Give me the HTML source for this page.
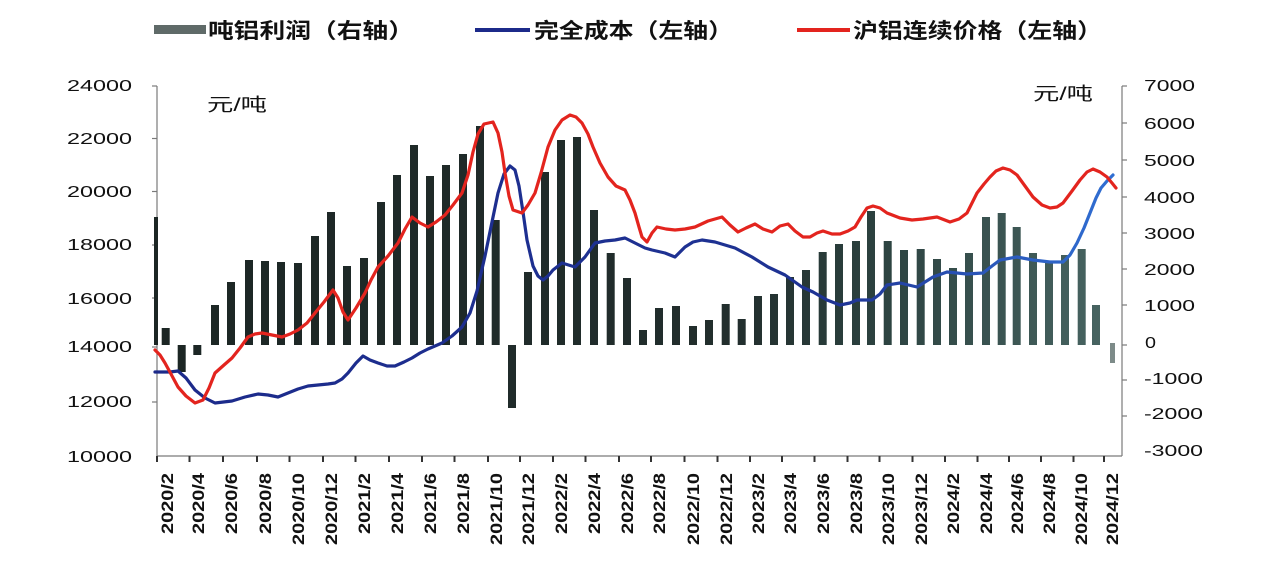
<!DOCTYPE html>
<html><head><meta charset="utf-8"><style>
html,body{margin:0;padding:0;background:#fff;}
svg{display:block;}
</style></head><body>
<svg width="1273" height="572" viewBox="0 0 1273 572" xmlns="http://www.w3.org/2000/svg">
<defs>
<linearGradient id="barg" gradientUnits="userSpaceOnUse" x1="157" y1="0" x2="1122" y2="0">
<stop offset="0" stop-color="#1c2624"/>
<stop offset="0.6" stop-color="#222e2d"/>
<stop offset="0.75" stop-color="#2c4240"/>
<stop offset="1" stop-color="#4a6764"/>
</linearGradient>
<linearGradient id="blueg" gradientUnits="userSpaceOnUse" x1="157" y1="0" x2="1122" y2="0">
<stop offset="0" stop-color="#1c2a8a"/>
<stop offset="0.7" stop-color="#1e3394"/>
<stop offset="0.85" stop-color="#2a55b8"/>
<stop offset="1" stop-color="#3070d4"/>
</linearGradient>
</defs>
<rect width="1273" height="572" fill="#fff"/>

<!-- Legend -->
<rect x="154" y="25" width="52" height="9" fill="#5f6a68"/>
<text x="208" y="38" font-family="Liberation Sans, Noto Sans CJK SC, sans-serif" font-weight="bold" font-size="21" fill="#111" textLength="206" lengthAdjust="spacingAndGlyphs">吨铝利润（右轴）</text>
<line x1="475" y1="30" x2="530" y2="30" stroke="#1c2a8a" stroke-width="4"/>
<text x="534" y="38" font-family="Liberation Sans, Noto Sans CJK SC, sans-serif" font-weight="bold" font-size="21" fill="#111" textLength="199" lengthAdjust="spacingAndGlyphs">完全成本（左轴）</text>
<line x1="797" y1="30" x2="850" y2="30" stroke="#e3241e" stroke-width="4"/>
<text x="853" y="38" font-family="Liberation Sans, Noto Sans CJK SC, sans-serif" font-weight="bold" font-size="21" fill="#111" textLength="249" lengthAdjust="spacingAndGlyphs">沪铝连续价格（左轴）</text>

<!-- Unit labels -->
<text x="207" y="111" font-family="Liberation Sans, Noto Sans CJK SC, sans-serif" font-size="18" fill="#111" textLength="60" lengthAdjust="spacingAndGlyphs">元/吨</text>
<text x="1033" y="100" font-family="Liberation Sans, Noto Sans CJK SC, sans-serif" font-size="18" fill="#111" textLength="60" lengthAdjust="spacingAndGlyphs">元/吨</text>

<!-- Left axis labels -->
<g font-family="Liberation Sans, sans-serif" font-size="16" fill="#111" text-anchor="end">
<text x="132" y="91" textLength="65" lengthAdjust="spacingAndGlyphs">24000</text>
<text x="132" y="144" textLength="65" lengthAdjust="spacingAndGlyphs">22000</text>
<text x="132" y="197" textLength="65" lengthAdjust="spacingAndGlyphs">20000</text>
<text x="132" y="250" textLength="65" lengthAdjust="spacingAndGlyphs">18000</text>
<text x="132" y="304" textLength="65" lengthAdjust="spacingAndGlyphs">16000</text>
<text x="132" y="352" textLength="65" lengthAdjust="spacingAndGlyphs">14000</text>
<text x="132" y="407" textLength="65" lengthAdjust="spacingAndGlyphs">12000</text>
<text x="132" y="462" textLength="65" lengthAdjust="spacingAndGlyphs">10000</text>
</g>
<!-- Right axis labels -->
<g font-family="Liberation Sans, sans-serif" font-size="16" fill="#111">
<text x="1144" y="91" textLength="51" lengthAdjust="spacingAndGlyphs">7000</text>
<text x="1144" y="129" textLength="51" lengthAdjust="spacingAndGlyphs">6000</text>
<text x="1144" y="166" textLength="51" lengthAdjust="spacingAndGlyphs">5000</text>
<text x="1144" y="203" textLength="51" lengthAdjust="spacingAndGlyphs">4000</text>
<text x="1144" y="239" textLength="51" lengthAdjust="spacingAndGlyphs">3000</text>
<text x="1144" y="275" textLength="51" lengthAdjust="spacingAndGlyphs">2000</text>
<text x="1144" y="311" textLength="51" lengthAdjust="spacingAndGlyphs">1000</text>
<text x="1145" y="348" textLength="11" lengthAdjust="spacingAndGlyphs">0</text>
<text x="1144" y="384" textLength="59" lengthAdjust="spacingAndGlyphs">-1000</text>
<text x="1144" y="419" textLength="59" lengthAdjust="spacingAndGlyphs">-2000</text>
<text x="1144" y="456" textLength="59" lengthAdjust="spacingAndGlyphs">-3000</text>
</g>

<!-- Axes -->
<g stroke="#7a7a7a" stroke-width="1.2" fill="none">
<line x1="157" y1="86" x2="157" y2="457"/>
<line x1="1122" y1="86" x2="1122" y2="456"/>
<line x1="157" y1="456" x2="1122" y2="456"/>
<line x1="152" y1="86" x2="157" y2="86"/>
<line x1="152" y1="138.5" x2="157" y2="138.5"/>
<line x1="152" y1="191.5" x2="157" y2="191.5"/>
<line x1="152" y1="245" x2="157" y2="245"/>
<line x1="152" y1="298" x2="157" y2="298"/>
<line x1="152" y1="347" x2="157" y2="347"/>
<line x1="152" y1="402" x2="157" y2="402"/>
<line x1="1122" y1="86" x2="1127" y2="86"/>
<line x1="1122" y1="123" x2="1127" y2="123"/>
<line x1="1122" y1="160" x2="1127" y2="160"/>
<line x1="1122" y1="197" x2="1127" y2="197"/>
<line x1="1122" y1="233" x2="1127" y2="233"/>
<line x1="1122" y1="269" x2="1127" y2="269"/>
<line x1="1122" y1="305" x2="1127" y2="305"/>
<line x1="1122" y1="345" x2="1127" y2="345"/>
<line x1="1122" y1="380" x2="1127" y2="380"/>
<line x1="1122" y1="416" x2="1127" y2="416"/>
</g>
<g stroke="#333" stroke-width="2">
<line x1="157" y1="456" x2="157" y2="462"/>
<line x1="189.5" y1="456" x2="189.5" y2="462"/>
<line x1="223" y1="456" x2="223" y2="462"/>
<line x1="257" y1="456" x2="257" y2="462"/>
<line x1="289.5" y1="456" x2="289.5" y2="462"/>
<line x1="323" y1="456" x2="323" y2="462"/>
<line x1="355.5" y1="456" x2="355.5" y2="462"/>
<line x1="389" y1="456" x2="389" y2="462"/>
<line x1="422" y1="456" x2="422" y2="462"/>
<line x1="454.5" y1="456" x2="454.5" y2="462"/>
<line x1="488" y1="456" x2="488" y2="462"/>
<line x1="520" y1="456" x2="520" y2="462"/>
<line x1="553" y1="456" x2="553" y2="462"/>
<line x1="585.5" y1="456" x2="585.5" y2="462"/>
<line x1="619" y1="456" x2="619" y2="462"/>
<line x1="651" y1="456" x2="651" y2="462"/>
<line x1="684.5" y1="456" x2="684.5" y2="462"/>
<line x1="717.5" y1="456" x2="717.5" y2="462"/>
<line x1="750" y1="456" x2="750" y2="462"/>
<line x1="782" y1="456" x2="782" y2="462"/>
<line x1="814.5" y1="456" x2="814.5" y2="462"/>
<line x1="847.5" y1="456" x2="847.5" y2="462"/>
<line x1="879.5" y1="456" x2="879.5" y2="462"/>
<line x1="912.5" y1="456" x2="912.5" y2="462"/>
<line x1="945" y1="456" x2="945" y2="462"/>
<line x1="977.5" y1="456" x2="977.5" y2="462"/>
<line x1="1009" y1="456" x2="1009" y2="462"/>
<line x1="1041" y1="456" x2="1041" y2="462"/>
<line x1="1073.5" y1="456" x2="1073.5" y2="462"/>
<line x1="1104" y1="456" x2="1104" y2="462"/>
</g>

<!-- Bars -->
<g fill="url(#barg)">
<rect x="154" y="217" width="4" height="128"/>
<rect x="161.7" y="328" width="8" height="17"/>
<rect x="177.7" y="345" width="8" height="27"/>
<rect x="193.3" y="345" width="8" height="10"/>
<rect x="211" y="305" width="8" height="40"/>
<rect x="227" y="282" width="8" height="63"/>
<rect x="245" y="260" width="8" height="85"/>
<rect x="261" y="261" width="8" height="84"/>
<rect x="277" y="262" width="8" height="83"/>
<rect x="294" y="263" width="8" height="82"/>
<rect x="311" y="236" width="8" height="109"/>
<rect x="327" y="212" width="8" height="133"/>
<rect x="343" y="266" width="8" height="79"/>
<rect x="360" y="258" width="8" height="87"/>
<rect x="377" y="202" width="8" height="143"/>
<rect x="393" y="175" width="8" height="170"/>
<rect x="410" y="145" width="8" height="200"/>
<rect x="426" y="176" width="8" height="169"/>
<rect x="442" y="165" width="8" height="180"/>
<rect x="459" y="154" width="8" height="191"/>
<rect x="476" y="126" width="8" height="219"/>
<rect x="491.7" y="220" width="8" height="125"/>
<rect x="508" y="345" width="8" height="63"/>
<rect x="524" y="272" width="8" height="73"/>
<rect x="541" y="172" width="8" height="173"/>
<rect x="557" y="140" width="8" height="205"/>
<rect x="573" y="137" width="8" height="208"/>
<rect x="590" y="210" width="8" height="135"/>
<rect x="606.7" y="253" width="8" height="92"/>
<rect x="623" y="278" width="8" height="67"/>
<rect x="639" y="330" width="8" height="15"/>
<rect x="655" y="308" width="8" height="37"/>
<rect x="672" y="306" width="8" height="39"/>
<rect x="689" y="326" width="8" height="19"/>
<rect x="705" y="320" width="8" height="25"/>
<rect x="721.7" y="304" width="8" height="41"/>
<rect x="737.7" y="319" width="8" height="26"/>
<rect x="754" y="296" width="8" height="49"/>
<rect x="770" y="294" width="8" height="51"/>
<rect x="786" y="277" width="8" height="68"/>
<rect x="802" y="270" width="8" height="75"/>
<rect x="818.7" y="252" width="8" height="93"/>
<rect x="835" y="244" width="8" height="101"/>
<rect x="852" y="241" width="8" height="104"/>
<rect x="867" y="211" width="8" height="134"/>
<rect x="883.7" y="241" width="8" height="104"/>
<rect x="900" y="250" width="8" height="95"/>
<rect x="916.7" y="249" width="8" height="96"/>
<rect x="933" y="259" width="8" height="86"/>
<rect x="949" y="268" width="8" height="77"/>
<rect x="965" y="253" width="8" height="92"/>
<rect x="982" y="217" width="8" height="128"/>
<rect x="997.7" y="213" width="8" height="132"/>
<rect x="1012.7" y="227" width="8" height="118"/>
<rect x="1029" y="253" width="8" height="92"/>
<rect x="1045" y="263" width="8" height="82"/>
<rect x="1061" y="255" width="8" height="90"/>
<rect x="1077.7" y="249" width="8" height="96"/>
<rect x="1092" y="305" width="8" height="40"/>
</g>
<rect x="1110" y="343" width="5" height="20" fill="#7d8b89"/>

<!-- Full cost (blue) -->
<polyline fill="none" stroke="url(#blueg)" stroke-width="3.2" stroke-linejoin="round" stroke-linecap="round"
points="155,372 170,372 178,371 186,378 195,390 205,398 215,403 232,401 245,397 258,394 268,395 278,397 288,393 298,389 308,386 318,385 328,384 335,383 342,379 348,373 356,363 363,356 370,360 378,363 387,366 395,366 404,362 412,358 420,353 428,349 435,346 442,343 452,336 462,327 470,313 477,291 485,256 492,222 498,193 504,174 510,166 515,170 519,186 523,212 527,240 533,266 538,276 543,280 548,276 553,270 562,263 575,267 585,257 595,243 605,241 615,240 625,238 635,243 645,248 652,250 665,253 675,257 685,247 693,242 702,240 715,242 725,245 735,248 752,257 768,267 785,275 802,287 813,292 827,300 840,305 850,303 857,300 872,300 880,294 887,285 900,283 917,287 925,282 933,277 947,272 957,273 967,274 983,273 992,266 1000,260 1017,257 1033,260 1050,262 1063,262 1070,255 1077,243 1084,228 1090,213 1096,198 1101,188 1107,181 1113,175"/>

<!-- Aluminium price (red) -->
<polyline fill="none" stroke="#e3241e" stroke-width="3.2" stroke-linejoin="round" stroke-linecap="round"
points="155,350 160,355 165,363 171,374 178,387 186,396 195,403 203,400 209,388 215,373 224,365 232,358 240,348 248,337 255,334 262,333 272,335 282,337 290,334 298,330 307,323 315,313 324,302 333,290 338,298 343,312 348,320 356,308 365,293 371,280 378,267 388,256 398,243 405,229 412,217 420,223 428,227 436,222 445,215 453,205 462,193 468,175 473,152 478,134 484,124 493,122 498,133 502,152 505,173 509,196 513,210 522,213 528,205 535,193 541,173 548,147 555,130 562,120 570,115 576,117 582,123 588,134 593,147 600,163 608,177 616,186 625,190 630,200 635,213 639,227 642,237 647,242 652,233 657,227 666,229 675,230 685,229 695,227 708,221 722,217 730,225 738,232 746,228 755,224 763,229 772,232 780,226 788,224 795,231 803,237 810,237 817,233 823,231 832,234 840,234 848,231 855,227 861,217 867,208 873,206 880,208 887,213 900,218 912,220 923,219 937,217 950,222 959,219 967,213 972,203 977,193 984,184 990,177 996,171 1003,168 1010,170 1017,175 1025,186 1033,197 1042,205 1050,208 1057,207 1063,203 1072,191 1080,180 1087,172 1093,169 1100,172 1107,177 1112,183 1116,188"/>

<!-- X labels -->
<g font-family="Liberation Sans, sans-serif" font-weight="bold" font-size="17" fill="#111" text-anchor="end">
<text transform="translate(173,473) rotate(-90)" textLength="61" lengthAdjust="spacingAndGlyphs">2020/2</text>
<text transform="translate(204,473) rotate(-90)" textLength="61" lengthAdjust="spacingAndGlyphs">2020/4</text>
<text transform="translate(237,473) rotate(-90)" textLength="61" lengthAdjust="spacingAndGlyphs">2020/6</text>
<text transform="translate(271,473) rotate(-90)" textLength="61" lengthAdjust="spacingAndGlyphs">2020/8</text>
<text transform="translate(304,473) rotate(-90)" textLength="72" lengthAdjust="spacingAndGlyphs">2020/10</text>
<text transform="translate(337,473) rotate(-90)" textLength="72" lengthAdjust="spacingAndGlyphs">2020/12</text>
<text transform="translate(370,473) rotate(-90)" textLength="61" lengthAdjust="spacingAndGlyphs">2021/2</text>
<text transform="translate(403,473) rotate(-90)" textLength="61" lengthAdjust="spacingAndGlyphs">2021/4</text>
<text transform="translate(436,473) rotate(-90)" textLength="61" lengthAdjust="spacingAndGlyphs">2021/6</text>
<text transform="translate(469,473) rotate(-90)" textLength="61" lengthAdjust="spacingAndGlyphs">2021/8</text>
<text transform="translate(502,473) rotate(-90)" textLength="72" lengthAdjust="spacingAndGlyphs">2021/10</text>
<text transform="translate(534,473) rotate(-90)" textLength="72" lengthAdjust="spacingAndGlyphs">2021/12</text>
<text transform="translate(567,473) rotate(-90)" textLength="61" lengthAdjust="spacingAndGlyphs">2022/2</text>
<text transform="translate(600,473) rotate(-90)" textLength="61" lengthAdjust="spacingAndGlyphs">2022/4</text>
<text transform="translate(633,473) rotate(-90)" textLength="61" lengthAdjust="spacingAndGlyphs">2022/6</text>
<text transform="translate(665,473) rotate(-90)" textLength="61" lengthAdjust="spacingAndGlyphs">2022/8</text>
<text transform="translate(699,473) rotate(-90)" textLength="72" lengthAdjust="spacingAndGlyphs">2022/10</text>
<text transform="translate(732,473) rotate(-90)" textLength="72" lengthAdjust="spacingAndGlyphs">2022/12</text>
<text transform="translate(764,473) rotate(-90)" textLength="61" lengthAdjust="spacingAndGlyphs">2023/2</text>
<text transform="translate(796,473) rotate(-90)" textLength="61" lengthAdjust="spacingAndGlyphs">2023/4</text>
<text transform="translate(829,473) rotate(-90)" textLength="61" lengthAdjust="spacingAndGlyphs">2023/6</text>
<text transform="translate(862,473) rotate(-90)" textLength="61" lengthAdjust="spacingAndGlyphs">2023/8</text>
<text transform="translate(894,473) rotate(-90)" textLength="72" lengthAdjust="spacingAndGlyphs">2023/10</text>
<text transform="translate(927,473) rotate(-90)" textLength="72" lengthAdjust="spacingAndGlyphs">2023/12</text>
<text transform="translate(959,473) rotate(-90)" textLength="61" lengthAdjust="spacingAndGlyphs">2024/2</text>
<text transform="translate(992,473) rotate(-90)" textLength="61" lengthAdjust="spacingAndGlyphs">2024/4</text>
<text transform="translate(1023,473) rotate(-90)" textLength="61" lengthAdjust="spacingAndGlyphs">2024/6</text>
<text transform="translate(1055,473) rotate(-90)" textLength="61" lengthAdjust="spacingAndGlyphs">2024/8</text>
<text transform="translate(1087,473) rotate(-90)" textLength="72" lengthAdjust="spacingAndGlyphs">2024/10</text>
<text transform="translate(1118,473) rotate(-90)" textLength="72" lengthAdjust="spacingAndGlyphs">2024/12</text>
</g>
</svg>
</body></html>
